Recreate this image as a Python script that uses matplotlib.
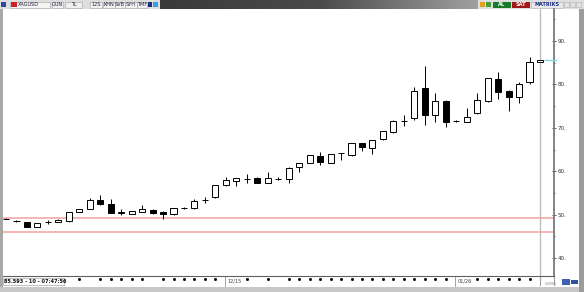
import matplotlib
matplotlib.use('Agg')
import matplotlib.pyplot as plt
import numpy as np
from matplotlib.patches import Rectangle

# ---------------- data ----------------
opens  = [49.05, 48.6, 48.3, 47.2, 48.25, 48.35, 48.6, 50.6, 51.3, 53.4,
          52.4, 50.4, 50.2, 50.7, 51.1, 50.6, 50.1, 51.5, 51.5, 53.3,
          54.0, 56.8, 57.8, 58.2, 58.4, 57.3, 58.2, 58.2, 61.0, 61.9,
          63.5, 61.9, 64.1, 63.7, 66.5, 65.4, 67.4, 69.0, 71.5, 72.3,
          79.2, 73.0, 76.2, 71.5, 71.4, 73.4, 76.2, 81.2, 78.5, 77.1,
          80.6, 85.2]
highs  = [49.2, 48.8, 48.4, 48.1, 48.7, 48.9, 50.7, 51.4, 53.8, 54.5,
          53.6, 51.2, 50.9, 52.2, 51.4, 50.8, 51.6, 51.8, 53.6, 54.0,
          56.9, 58.6, 58.5, 59.3, 58.6, 59.8, 58.6, 60.9, 62.0, 63.8,
          64.4, 64.0, 64.2, 66.6, 66.6, 67.3, 69.3, 71.8, 73.0, 79.4,
          84.2, 78.0, 76.4, 71.7, 74.6, 78.0, 81.5, 82.9, 78.6, 80.6,
          86.3, 85.7]
lows   = [48.9, 48.3, 47.1, 47.1, 47.9, 48.2, 48.4, 50.5, 51.2, 52.3,
          50.3, 49.9, 50.1, 50.5, 50.2, 49.0, 50.0, 51.3, 51.4, 52.7,
          53.9, 56.6, 56.6, 57.3, 57.2, 57.2, 57.9, 57.3, 59.8, 61.8,
          61.4, 61.8, 62.6, 63.6, 64.7, 64.0, 67.3, 68.9, 70.4, 71.8,
          70.6, 71.3, 70.2, 71.3, 71.3, 73.2, 76.0, 76.6, 73.9, 75.7,
          80.1, 85.1]
closes = [48.95, 48.45, 47.2, 48.0, 48.3, 48.75, 50.6, 51.3, 53.4, 52.5,
          50.4, 50.5, 50.8, 51.3, 50.4, 50.1, 51.5, 51.6, 53.1, 53.4,
          56.8, 57.9, 58.4, 58.3, 57.3, 58.4, 58.3, 60.7, 61.9, 63.7,
          62.1, 63.9, 64.2, 66.5, 65.6, 67.2, 69.2, 71.6, 71.6, 78.5,
          73.0, 76.2, 71.3, 71.6, 72.5, 76.4, 81.5, 78.3, 77.1, 80.1,
          85.2, 85.6]
support_levels = [49.3, 46.0]
last_price = 85.593
last_label = "85.593 - 10 - 07:47:56"
y_ticks = [40, 50, 60, 70, 80, 90]
y_tick_labels = ["40.", "50.", "60.", "70.", "80.", "90."]
y_minor = [45, 55, 65, 75, 85, 95]
date_idx = [21, 43]
date_labels = ["12/15", "01/26"]
tick_dots = [7, 9, 10, 11, 12, 13, 15, 16, 17, 18, 19, 20, 23, 25, 27, 28,
             29, 30, 31, 32, 33, 34, 35, 36, 37, 38, 39, 40, 41, 42,
             45, 46, 47, 48, 49, 50]

# ---------------- figure ----------------
W, H = 584, 292
fig = plt.figure(figsize=(W / 100, H / 100), dpi=100, facecolor='#b4b4b4')
bg = fig.add_axes([0, 0, 1, 1], zorder=0)
bg.set_xlim(0, W); bg.set_ylim(H, 0); bg.axis('off')


def rect(x0, y0, x1, y1, fc, ec='none', lw=0.0, z=1):
    bg.add_patch(Rectangle((x0, y0), x1 - x0, y1 - y0, facecolor=fc,
                           edgecolor=ec, linewidth=lw, zorder=z))


def txt(x, y, s, color='#202040', size=3.6, ha='left', weight='normal', z=3):
    bg.text(x, y, s, fontsize=size, color=color, ha=ha, va='center',
            fontweight=weight, zorder=z)


# window panels
rect(0, 0, W, H, '#c4c4c4', z=0)
rect(3, 9, 579, 287, 'white', z=1)
rect(579, 9, 584, 292, '#9c9c9c', z=1)
rect(0, 9, 3, 292, '#a8a8a8', z=1)
rect(0, 287, 579, 292, '#c8c8c8', z=1)

# toolbar
rect(0, 0, W, 9, '#dedede', z=1)
grad = np.linspace(0, 1, 256).reshape(1, -1)
bg.imshow(grad, extent=[160, 478, 9, 0.5], cmap=matplotlib.colors.LinearSegmentedColormap.from_list(
    'g', ['#3a3a3a', '#4a4a4a', '#a0a0a0']), aspect='auto', zorder=2)
rect(1, 2, 6, 7, '#2a4aa0', z=2)
rect(10, 1.5, 50, 7.5, '#f4f4f4', ec='#a0a0a0', lw=0.4, z=2)
rect(11, 2, 17, 7, '#d02020', z=3)
txt(18, 4.6, 'XAGUSD')
for (x0, x1, s) in [(52, 63, 'GUN'), (65, 82, 'TL'), (90, 102, '12S'),
                    (103, 115, 'KHN'), (115, 125, 'SVB'), (125, 137, 'SYH'),
                    (137, 147, 'TMF')]:
    rect(x0, 1.5, x1, 7.5, '#f0f0f0', ec='#a0a0a0', lw=0.4, z=2)
    txt((x0 + x1) / 2, 4.6, s, ha='center')
rect(148, 2, 152, 7, '#203080', z=2)
rect(153, 2, 158, 7, '#30a0e0', z=2)
rect(480, 2, 485, 7, '#e0a020', z=2)
rect(486, 2, 491, 7, '#40a040', z=2)
rect(493, 1.5, 511, 7.5, '#1a7a2a', z=2)
txt(502, 4.6, 'AL', color='white', ha='center', weight='bold')
rect(512, 1.5, 530, 7.5, '#a01818', z=2)
txt(521, 4.6, 'SAT', color='white', ha='center', weight='bold')
rect(531, 1.5, 563, 7.5, '#e8e8ec', ec='#b0b0b0', lw=0.4, z=2)
txt(547, 4.6, 'MATRIKS', color='#203080', ha='center', weight='bold')
for x0 in [564, 570, 576]:
    rect(x0, 2, x0 + 5, 7, '#e4e4e4', ec='#b0b0b0', lw=0.4, z=2)

# bottom-left last-price box
rect(3, 277.5, 64, 285, 'white', ec='#909090', lw=0.4, z=2)
txt(4, 281.3, last_label, color='#101010', size=3.6, weight='bold')
rect(545, 282, 556, 285, '#d8d8d8', z=2)
rect(562, 279, 570, 285, '#4060b0', z=2)
rect(571, 280, 578, 284, '#3050a0', z=2)

# ---------------- chart axes ----------------
x_left_px, x_right_px, y_top_px, y_bot_px = 3, 554, 9, 276
ax = fig.add_axes([x_left_px / W, 1 - y_bot_px / H,
                   (x_right_px - x_left_px) / W, (y_bot_px - y_top_px) / H],
                  zorder=2)
ax.set_facecolor('white')
step = 10.47
ax.set_xlim((x_left_px - 6) / step, (x_right_px - 6) / step)
ax.set_ylim(90 - (y_bot_px - 41) / 4.34, 90 + (41 - y_top_px) / 4.34)

idx = np.arange(len(opens))
o = np.array(opens); c = np.array(closes)
hi = np.array(highs); lo = np.array(lows)
up = c >= o
body_bottom = np.minimum(o, c)
body_h = np.abs(c - o)

# current-time vertical line
ax.axvline(idx[-1], color='#bdbdbd', lw=1.0, zorder=1)
for lvl in support_levels:
    ax.axhline(lvl, color='#f2a0a0', lw=1.1, zorder=1)

ax.vlines(idx, lo, hi, color='black', lw=0.7, zorder=2)
ax.bar(idx, body_h, bottom=body_bottom, width=0.58,
       color=np.where(up, 'white', 'black'), edgecolor='black',
       linewidth=0.7, zorder=3)

# last price marker
ax.plot([idx[-1] + 0.45, idx[-1] + 1.5], [last_price, last_price],
        color='#80dde6', lw=1.0, clip_on=False, zorder=4)

# axes styling
for s in ['top', 'left']:
    ax.spines[s].set_visible(False)
ax.spines['right'].set_color('#7a7a7a')
ax.spines['right'].set_linewidth(1.3)
ax.spines['bottom'].set_color('#606060')
ax.spines['bottom'].set_linewidth(0.8)
ax.yaxis.tick_right()
ax.set_yticks(y_ticks)
ax.set_yticklabels(y_tick_labels)
ax.set_yticks(y_minor, minor=True)
ax.tick_params(axis='y', which='major', direction='inout', length=3.5,
               width=0.6, pad=0.8, colors='#404040', labelsize=4,
               labelcolor='#303030')
ax.tick_params(axis='y', which='minor', direction='inout', length=1.5,
               width=0.6, colors='#404040')
ax.set_xticks([])

# x-axis strip: dots, date separators, date labels
xt = ax.get_xaxis_transform()
ax.plot(tick_dots, [-0.0095] * len(tick_dots), 's', ms=1.0, color='black',
        transform=xt, clip_on=False, zorder=4)
for i, lab in zip(date_idx, date_labels):
    ax.plot([i - 0.1, i - 0.1], [0, -0.038], color='#909090', lw=0.6,
            transform=xt, clip_on=False)
    ax.text(i + 0.15, -0.019, lab, transform=xt, fontsize=3.6,
            color='#404040', va='center', ha='left')
for i in [idx[-1], (x_right_px - 6) / step]:
    ax.plot([i, i], [0, -0.035], color='#a0a0a0', lw=0.8, transform=xt,
            clip_on=False)

fig.savefig('out.png', dpi=100, facecolor=fig.get_facecolor())
